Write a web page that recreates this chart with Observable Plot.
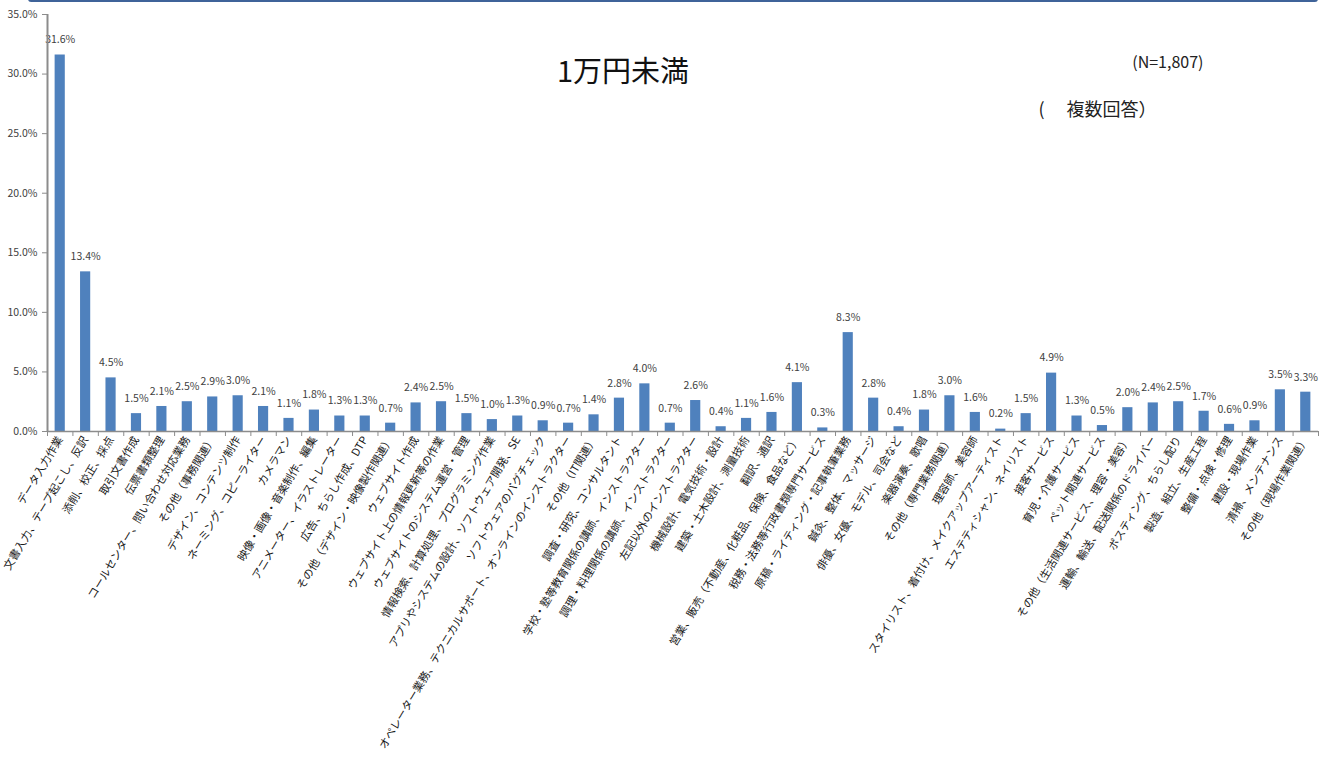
<!DOCTYPE html>
<html lang="ja">
<head>
<meta charset="utf-8">
<script src="https://cdn.jsdelivr.net/npm/d3@7"></script>
<script src="https://cdn.jsdelivr.net/npm/@observablehq/plot@0.6"></script>
<style>
  html, body { margin: 0; padding: 0; background: #fff; }
  #wrap { position: relative; width: 1326px; height: 764px; overflow: hidden; }
  #topline { position: absolute; left: 28px; top: -1px; width: 1290px; height: 3px;
             background: #3f6399; border-radius: 0 0 3px 3px; }
  svg text { font-family: "Noto Sans CJK JP", "Noto Sans", sans-serif; }
</style>
</head>
<body>
<div id="wrap"><div id="topline"></div></div>
<script>
// 職種カテゴリ
const categories = [
  "データ入力作業",
  "文書入力、テープ起こし、反訳",
  "添削、校正、採点",
  "取引文書作成",
  "伝票書類整理",
  "コールセンター、問い合わせ対応業務",
  "その他（事務関連）",
  "デザイン、コンテンツ制作",
  "ネーミング、コピーライター",
  "カメラマン",
  "映像・画像・音楽制作、編集",
  "アニメーター、イラストレーター",
  "広告、ちらし作成、DTP",
  "その他（デザイン・映像製作関連）",
  "ウェブサイト作成",
  "ウェブサイト上の情報更新等の作業",
  "ウェブサイトのシステム運営・管理",
  "情報検索、計算処理、プログラミング作業",
  "アプリやシステムの設計、ソフトウェア開発、SE",
  "ソフトウェアのバグチェック",
  "オペレーター業務、テクニカルサポート、オンラインのインストラクター",
  "その他（IT関連）",
  "調査・研究、コンサルタント",
  "学校・塾等教育関係の講師、インストラクター",
  "調理・料理関係の講師、インストラクター",
  "左記以外のインストラクター",
  "機械設計、電気技術・設計",
  "建築・土木設計、測量技術",
  "翻訳、通訳",
  "営業、販売（不動産、化粧品、保険、食品など）",
  "税務・法務等行政書類専門サービス",
  "原稿・ライティング・記事執筆業務",
  "鍼灸、整体、マッサージ",
  "俳優、女優、モデル、司会など",
  "楽器演奏、歌唱",
  "その他（専門業務関連）",
  "理容師、美容師",
  "スタイリスト、着付け、メイクアップアーティスト",
  "エステティシャン、ネイリスト",
  "接客サービス",
  "育児・介護サービス",
  "ペット関連サービス",
  "その他（生活関連サービス、理容・美容）",
  "運輸、輸送、配送関係のドライバー",
  "ポスティング、ちらし配り",
  "製造、組立、生産工程",
  "整備・点検・修理",
  "建設・現場作業",
  "清掃、メンテナンス",
  "その他（現場作業関連）"
];

// 割合（%）
const shares = [
  31.6, 13.4, 4.5, 1.5, 2.1, 2.5, 2.9, 3.0, 2.1, 1.1,
  1.8, 1.3, 1.3, 0.7, 2.4, 2.5, 1.5, 1.0, 1.3, 0.9,
  0.7, 1.4, 2.8, 4.0, 0.7, 2.6, 0.4, 1.1, 1.6, 4.1,
  0.3, 8.3, 2.8, 0.4, 1.8, 3.0, 1.6, 0.2, 1.5, 4.9,
  1.3, 0.5, 2.0, 2.4, 2.5, 1.7, 0.6, 0.9, 3.5, 3.3
];

const yTicks = [0, 5, 10, 15, 20, 25, 30, 35];

const titleText = "1万円未満";
const sampleText = "(N=1,807)";
const noteText = "(　 複数回答）";

const rows = categories.map((c, i) => ({category: c, share: shares[i]}));

const W = 1326, H = 764;
const mL = 47, mR = 8, mT = 14, mB = 333;
const step = (W - mL - mR) / categories.length;
const axisGray = "#8c8c8c";

const chart = Plot.plot({
  width: W,
  height: H,
  marginLeft: mL,
  marginRight: mR,
  marginTop: mT,
  marginBottom: mB,
  style: {fontSize: "11px", color: "#333", background: "white"},
  x: {domain: categories, paddingInner: 0.6, paddingOuter: 0.3, round: false},
  y: {domain: [0, 35]},
  marks: [
    Plot.barY(rows, {x: "category", y: "share", fill: "#4f81bd"}),
    Plot.text(rows, {
      x: "category", y: "share",
      text: d => d.share.toFixed(1) + "%",
      dy: -15, fontSize: 10.5, fill: "#404040"
    }),
    // baseline and left axis line
    Plot.ruleY([0], {stroke: axisGray, strokeWidth: 1.5}),
    Plot.ruleX([categories[0]], {y1: 0, y2: 35, dx: -step / 2, stroke: axisGray, strokeWidth: 2}),
    // category boundary ticks
    Plot.ruleX(categories, {y1: 0, y2: 0, dx: -step / 2, insetBottom: -5, stroke: axisGray}),
    Plot.ruleX([categories[categories.length - 1]], {y1: 0, y2: 0, dx: step / 2, insetBottom: -5, stroke: axisGray}),
    Plot.axisY({
      ticks: yTicks, tickSize: 5, tickPadding: 5, stroke: axisGray,
      tickFormat: d => d.toFixed(1) + "%", fill: "#404040", fontSize: 10.5, label: null
    }),
    Plot.axisX({
      tickSize: 0, tickPadding: 6, tickRotate: -59, fontSize: 11,
      fill: "#1a1a1a", label: null
    }),
    Plot.text([titleText], {
      frameAnchor: "top", dx: -60, dy: 58, fontSize: 29, fill: "#111",
      lineAnchor: "middle"
    }),
    Plot.text([sampleText], {
      frameAnchor: "top-right", dx: -115, dy: 48, fontSize: 16, fill: "#222",
      textAnchor: "end", lineAnchor: "middle"
    }),
    Plot.text([noteText], {
      frameAnchor: "top-right", dx: -280, dy: 96, fontSize: 18, fill: "#222",
      textAnchor: "start", lineAnchor: "middle"
    })
  ]
});

document.getElementById("wrap").appendChild(chart);
</script>
</body>
</html>
